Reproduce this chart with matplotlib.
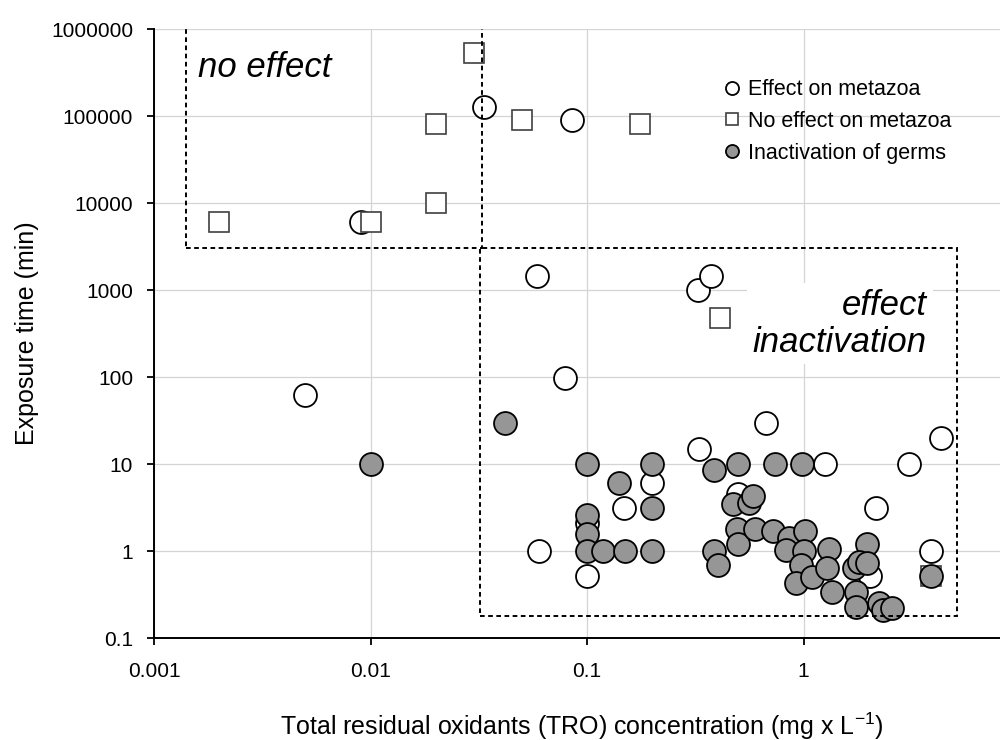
import numpy as np
import matplotlib as mpl
mpl.use('Agg')
import matplotlib.pyplot as plt
from matplotlib.patches import Rectangle

plt.rcParams['font.family'] = ['Liberation Sans', 'DejaVu Sans']
plt.rcParams['mathtext.default'] = 'regular'

### data (x = TRO mg/L, y = exposure time min)
effect_x = [0.005, 0.009, 0.0334, 0.085, 0.059, 0.079, 0.06, 0.1, 0.1, 0.148,
            0.2, 0.33, 0.325, 0.372, 0.5, 0.67, 1.26, 3.06, 4.3, 2.17, 3.9, 2.02]
effect_y = [62, 6000, 126000, 90000, 1440, 97, 1, 2.1, 0.52, 3.1,
            6, 15, 1000, 1440, 4.5, 30, 10, 10, 20, 3.1, 1, 0.51]

noeffect_x = [0.002, 0.01, 0.02, 0.02, 0.03, 0.05, 0.176, 0.41, 3.9]
noeffect_y = [6000, 6000, 82000, 10000, 525000, 90000, 82000, 480, 0.52]

inact_x = [0.01, 0.042, 0.1, 0.1, 0.1, 0.1, 0.118, 0.14, 0.15, 0.2,
           0.2, 0.2, 0.387, 0.5, 0.47, 0.563, 0.585, 0.495, 0.5, 0.595,
           0.387, 0.402, 0.74, 0.98, 0.72, 0.86, 1.02, 0.83, 1.0, 0.97,
           0.925, 1.09, 1.31, 1.29, 1.36, 1.96, 1.72, 1.81, 1.96, 1.75,
           1.75, 2.24, 2.34, 2.57, 3.9]
inact_y = [10, 30, 10, 2.6, 1.55, 1, 1, 6, 1, 10,
           3.1, 1, 8.5, 10, 3.5, 3.6, 4.3, 1.8, 1.2, 1.8,
           1, 0.7, 10, 10, 1.7, 1.4, 1.7, 1.03, 1.0, 0.7,
           0.43, 0.5, 1.05, 0.63, 0.34, 1.2, 0.63, 0.75, 0.73, 0.34,
           0.23, 0.25, 0.21, 0.22, 0.52]

xticks = [0.001, 0.01, 0.1, 1]
xticklabels = ['0.001', '0.01', '0.1', '1']
yticks = [0.1, 1, 10, 100, 1000, 10000, 100000, 1000000]
yticklabels = ['0.1', '1', '10', '100', '1000', '10000', '100000', '1000000']

# dashed region boxes (x0, x1, y0, y1) in data units
box_noeffect = (0.0014, 0.0329, 3064, 1.475e6)
box_effect = (0.0322, 5.12, 0.18, 3064)

fig = plt.figure(figsize=(10, 7.4), dpi=100)
ax = fig.add_axes([0.154, 0.1378, 0.866, 0.823])  # right part cropped like the original

ax.plot(effect_x, effect_y, 'o', ms=16.5, mfc='white', mec='black', mew=1.3,
        label='Effect on metazoa', zorder=3)
ax.plot(noeffect_x, noeffect_y, 's', ms=14.8, mfc='white', mec='#404040', mew=1.2,
        label='No effect on metazoa', zorder=4)
ax.plot(inact_x, inact_y, 'o', ms=16.5, mfc='#969696', mec='black', mew=1.3,
        label='Inactivation of germs', zorder=5)

ax.set_xscale('log')
ax.set_yscale('log')
ax.set_xlim(0.001, 10)
ax.set_ylim(0.1, 1000000)
ax.set_xticks(xticks)
ax.set_xticklabels(xticklabels)
ax.set_yticks(yticks)
ax.set_yticklabels(yticklabels)
ax.xaxis.set_minor_locator(mpl.ticker.NullLocator())
ax.yaxis.set_minor_locator(mpl.ticker.NullLocator())
ax.tick_params(labelsize=15, length=5, width=1.3, direction='out', color='black')
ax.tick_params(axis='x', pad=12)
ax.tick_params(axis='y', pad=10)
ax.grid(True, color='#d4d4d4', lw=0.9, zorder=0)
ax.set_axisbelow(True)
for s in ['top', 'right']:
    ax.spines[s].set_visible(False)
for s in ['left', 'bottom']:
    ax.spines[s].set_linewidth(1.4)

##dashed boxes on top of markers
for (x0, x1, y0, y1) in [box_noeffect, box_effect]:
    r = Rectangle((x0, y0), x1 - x0, y1 - y0, fill=False, ec='black',
                  lw=1.4, ls=(0, (2.4, 1.8)), zorder=6)
    ax.add_patch(r)

ax.text(0.051, 0.921, 'no effect', transform=ax.transAxes, fontsize=25,
        style='italic', ha='left', va='baseline', zorder=7)
ax.text(0.8926, 0.47, 'effect\ninactivation', transform=ax.transAxes, fontsize=25,
        style='italic', ha='right', va='baseline', multialignment='right',
        linespacing=1.15, zorder=7,
        bbox=dict(fc='white', ec='none', pad=4))

leg = ax.legend(loc='upper left', bbox_to_anchor=(0.726, 0.893),
                bbox_transform=fig.transFigure, frameon=False, fontsize=15.5,
                markerscale=0.57, handlelength=0.6, handletextpad=0.4,
                labelspacing=0.5, borderpad=0, borderaxespad=0)

fig.text(0.5815, 1 - 726 / 740, 'Total residual oxidants (TRO) concentration (mg x L$^{-1}$)',
         fontsize=18, ha='center', va='center')
fig.text(0.027, 1 - 333 / 740, 'Exposure time (min)', fontsize=18,
         rotation=90, ha='center', va='center')

plt.savefig('out.png', dpi=100)
